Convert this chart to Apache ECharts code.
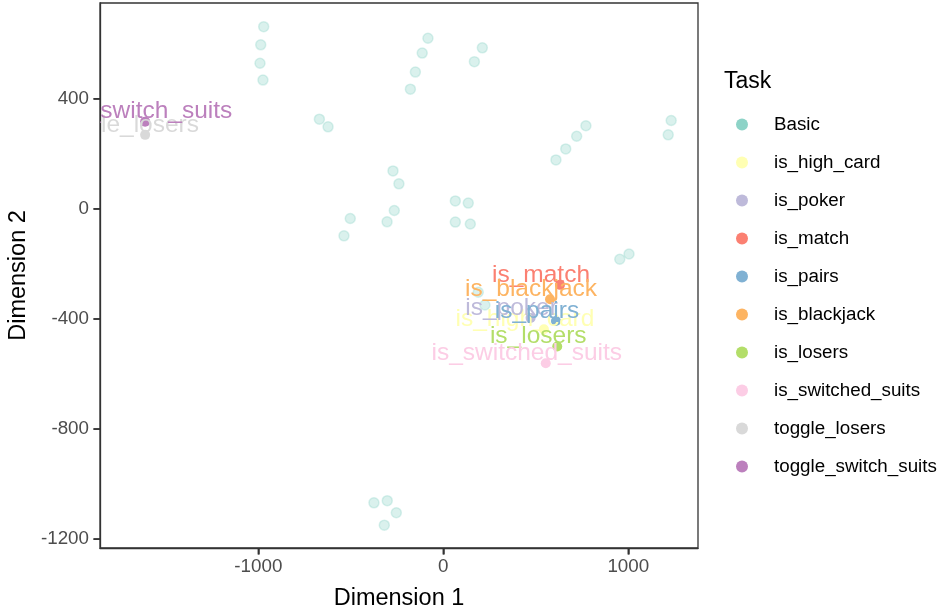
<!DOCTYPE html>
<html>
<head>
<meta charset="utf-8">
<script src="https://cdn.jsdelivr.net/npm/echarts@6/dist/echarts.min.js"></script>
<style>html,body{margin:0;padding:0;background:#fff}#c{width:941px;height:611px}</style>
</head>
<body>
<div id="c"></div>
<script>
// ---- data ----
const tasks = ['Basic','is_high_card','is_poker','is_match','is_pairs','is_blackjack','is_losers','is_switched_suits','toggle_losers','toggle_switch_suits'];
const colors = ['#8DD3C7','#FFFFB3','#BEBADA','#FB8072','#80B1D3','#FDB462','#B3DE69','#FCCDE5','#D9D9D9','#BC80BD'];
const basicX = [-971,-987,-991,-975,-670,-623,-83,-114,-151,-178,211,168,-272,-240,-503,-537,-265,-304,65,135,65,146,771,721,662,609,1232,1216,1004,954,-375,-303,-254,-319,189,225];
const basicY = [662,596,529,468,326,298,620,566,497,435,585,535,138,91,-35,-98,-6,-47,29,21,-48,-55,302,264,218,178,321,269,-164,-183,-1068,-1060,-1104,-1149,-303,-349];
// task points (tasks[1..9])
const taskX = [544,472,631,609,577,616,554,-1612,-1612];
const taskY = [-437,-396,-276,-407,-328,-500,-561,269,317];
const xTicks = [-1000,0,1000];
const yTicks = [400,0,-400,-800,-1200];
const xRange = [-1856,1377];
const yRange = [-1232,748];

const FONT = "'Liberation Sans', Arial, Helvetica, sans-serif";
const TICK_LEN = 6.5;
function rgba(hex,a){const n=parseInt(hex.slice(1),16);return `rgba(${n>>16&255},${n>>8&255},${n&255},${a})`;}

const series = [];
series.push({
  name: tasks[0], type:'scatter', symbolSize: 10,
  data: basicX.map((x,i)=>[x,basicY[i]]),
  itemStyle:{color: rgba(colors[0],0.4), borderColor: rgba(colors[0],0.4), borderWidth:1.5},
  z:2
});
for (let k=1;k<tasks.length;k++){
  series.push({
    name: tasks[k], type:'scatter', symbolSize: 10,
    data: [[taskX[k-1], taskY[k-1]]],
    itemStyle:{color: colors[k], opacity:1},
    z:3
  });
}
// labels through the coordinate system, clipped to the panel
series.push({
  type:'custom', clip:true, z:4, silent:true,
  data: taskX.map((x,i)=>[x,taskY[i],i+1]),
  renderItem: function(params, api){
    const p = api.coord([api.value(0), api.value(1)]);
    const k = api.value(2);
    return {type:'text', x:p[0]-19, y:p[1]-10,
      style:{text: tasks[k], fill: colors[k], fontSize: 24.5, fontFamily: FONT, align:'center', verticalAlign:'middle'}};
  }
});
// outward axis ticks, placed through the axis scales
const tickData = xTicks.map(v=>[v, yRange[0], 0]).concat(yTicks.map(v=>[xRange[0], v, 1]));
series.push({
  type:'custom', clip:false, z:5, silent:true,
  data: tickData,
  renderItem: function(params, api){
    const p = api.coord([api.value(0), api.value(1)]);
    const isY = api.value(2) === 1;
    const shape = isY ? {x1:p[0]-TICK_LEN, y1:p[1], x2:p[0], y2:p[1]} : {x1:p[0], y1:p[1], x2:p[0], y2:p[1]+TICK_LEN};
    return {type:'line', shape: shape, style:{stroke:'#333', lineWidth:1.5}};
  }
});

const axisLineStyle = {show:true, onZero:false, lineStyle:{color:'#333', width:1.3}};
const tickStyle = {show:true, inside:false, length:TICK_LEN, lineStyle:{color:'#333', width:1.5}};
const chart = echarts.init(document.getElementById('c'), null, {renderer:'canvas'});
chart.setOption({
  animation:false,
  backgroundColor:'#fff',
  title:{text:'Task', left:724, top:70, padding:0, textStyle:{fontFamily:FONT, fontSize:23, fontWeight:'normal', color:'#000'}},
  legend:{
    orient:'vertical', left:736, top:115, padding:0, itemWidth:54, itemHeight:12, itemGap:19,
    icon:'circle', symbolKeepAspect:true,
    textStyle:{fontFamily:FONT, fontSize:18.8, color:'#000'},
    data: tasks.map((t,i)=>({name:t, itemStyle:{color:colors[i], borderWidth:0, opacity:1}}))
  },
  grid:{left:100, right:243, top:3, bottom:63, show:true, borderColor:'#333', borderWidth:1.3, backgroundColor:'transparent', containLabel:false, outerBoundsMode:'none'},
  xAxis:{
    type:'value', min:xRange[0], max:xRange[1],
    name:'Dimension 1', nameLocation:'middle', nameGap:39,
    nameTextStyle:{fontFamily:FONT, fontSize:23.5, color:'#000'},
    splitLine:{show:false}, axisLine:axisLineStyle,
    axisTick:Object.assign({customValues:xTicks}, tickStyle),
    axisLabel:{fontFamily:FONT, fontSize:18.8, color:'#4D4D4D', margin:9, customValues:xTicks, formatter: v=>String(v)}
  },
  yAxis:{
    type:'value', min:yRange[0], max:yRange[1],
    name:'Dimension 2', nameLocation:'middle', nameGap:53,
    nameTextStyle:{fontFamily:FONT, fontSize:23.5, color:'#000'},
    splitLine:{show:false}, axisLine:axisLineStyle,
    axisTick:Object.assign({customValues:yTicks}, tickStyle),
    axisLabel:{fontFamily:FONT, fontSize:18.8, color:'#4D4D4D', margin:11, customValues:yTicks, formatter: v=>String(v)}
  },
  series: series
});
</script>
</body>
</html>
